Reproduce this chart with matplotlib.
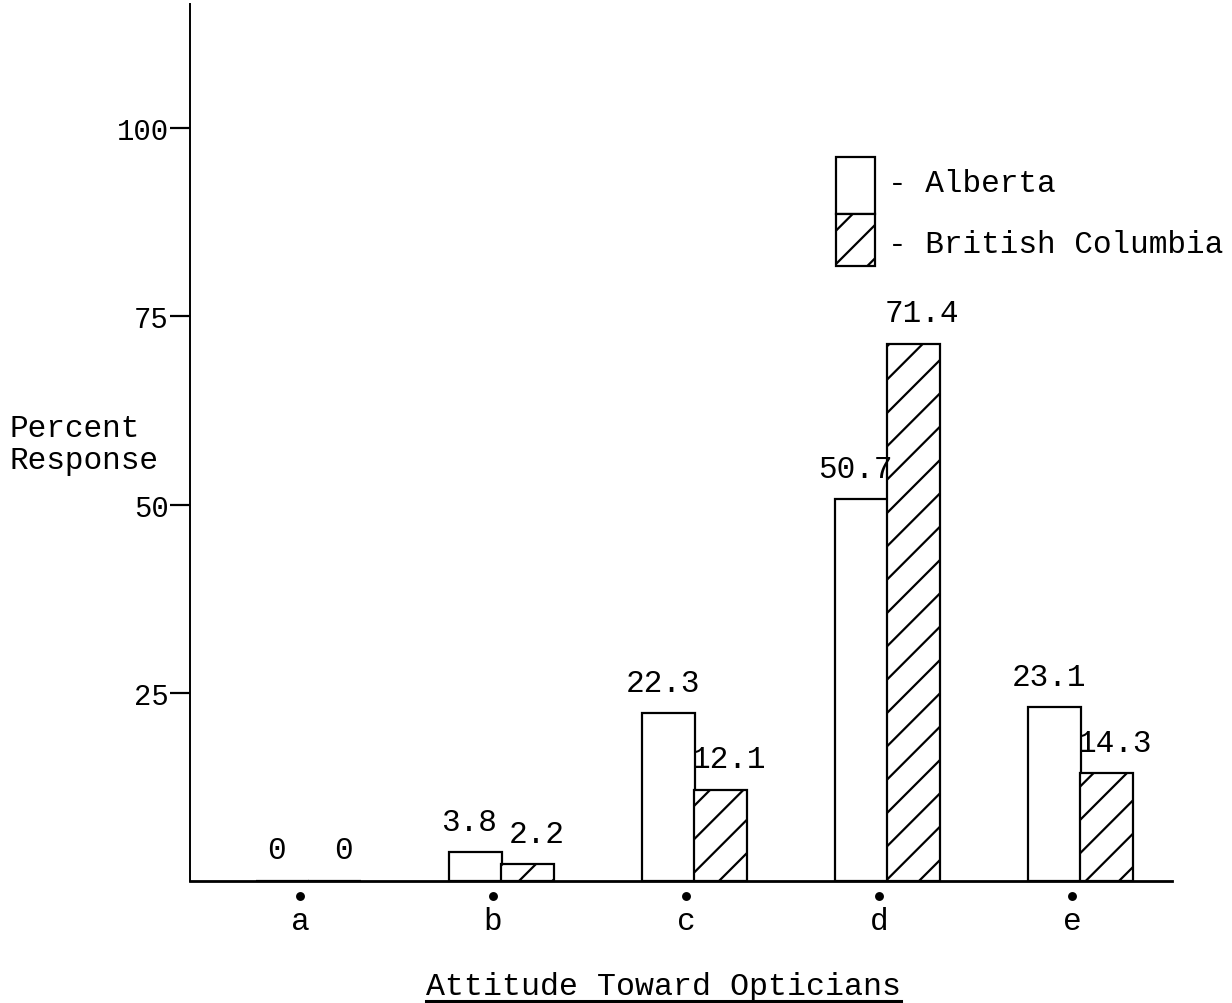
import matplotlib
matplotlib.use("Agg")
import matplotlib.pyplot as plt
import numpy as np
from matplotlib.transforms import ScaledTranslation
from matplotlib.lines import Line2D
from matplotlib.patches import Rectangle

categories = ["a", "b", "c", "d", "e"]
alberta = [0, 3.8, 22.3, 50.7, 23.1]
british_columbia = [0, 2.2, 12.1, 71.4, 14.3]
alberta_labels = ["0", "3.8", "22.3", "50.7", "23.1"]
bc_labels = ["0", "2.2", "12.1", "71.4", "14.3"]
series_names = ["- Alberta", "- British Columbia"]
yticks = [25, 50, 75, 100]

DPI = 200
W, H = 1232, 1004
plt.rcParams['font.family'] = ['Liberation Mono', 'DejaVu Sans Mono']
plt.rcParams['hatch.linewidth'] = 0.8

fig = plt.figure(figsize=(W / DPI, H / DPI), dpi=DPI)
ax = fig.add_axes([190 / W, 1 - 882 / H, (1172 - 190) / W, (882 - 5) / H])

x = np.arange(len(categories))
off_a, off_b, width = -0.093, 0.181, 0.275
HATCH = "//"
bars_a = ax.bar(x + off_a, alberta, width, color="white", edgecolor="black",
                linewidth=0.8)
bars_b = ax.bar(x + off_b, british_columbia, width, color="white", edgecolor="black",
                linewidth=0.8, hatch=HATCH)

for xi, v, t in zip(x + off_a, alberta, alberta_labels):
    ax.annotate(t, (xi, v), xytext=(-2, 11), textcoords="offset points",
                ha="center", va="center", fontsize=11.2)
for xi, v, t in zip(x + off_b, british_columbia, bc_labels):
    ax.annotate(t, (xi, v), xytext=(3, 11), textcoords="offset points",
                ha="center", va="center", fontsize=11.2)

# category dots below the axis
dot_tr = ax.transData + ScaledTranslation(0, -15 / DPI, fig.dpi_scale_trans)
ax.plot(x, np.zeros(len(x)), "o", color="black", ms=2.2, transform=dot_tr, clip_on=False)

ax.set_xlim(-0.570, 4.518)
ax.set_ylim(0, 116.5)
ax.set_xticks(x)
ax.set_xticklabels(categories, fontsize=11.2)
ax.tick_params(axis="x", length=0, pad=9)
ax.set_yticks(yticks)
ax.set_yticklabels([str(t) for t in yticks], fontsize=10.4)
ax.tick_params(axis="y", direction="out", length=7.2, width=0.8, pad=0.5)

for s in ["top", "right"]:
    ax.spines[s].set_visible(False)
ax.spines["left"].set_linewidth(0.7)
ax.spines["bottom"].set_linewidth(1.0)

fig.text(10 / W, 1 - 445 / H, "Percent\nResponse", ha="left", va="center",
         fontsize=11.2, linespacing=1.1)

xl = fig.text(663 / W, 1 - 995 / H, "Attitude Toward Opticians", ha="center",
              va="baseline", fontsize=11.4)

# manual legend (stacked boxes)
lx0, lx1 = 836 / W, 875 / W
ly = [1 - 158 / H, 1 - 215 / H, 1 - 267 / H]
fig.add_artist(Rectangle((lx0, ly[1]), lx1 - lx0, ly[0] - ly[1], facecolor="white",
                         edgecolor="black", linewidth=0.8, transform=fig.transFigure))
fig.add_artist(Rectangle((lx0, ly[2]), lx1 - lx0, ly[1] - ly[2], facecolor="white",
                         edgecolor="black", linewidth=0.8, hatch=HATCH,
                         transform=fig.transFigure))
fig.text(888 / W, 1 - 184 / H, series_names[0], ha="left", va="center", fontsize=11.2)
fig.text(888 / W, 1 - 245 / H, series_names[1], ha="left", va="center", fontsize=11.2)

fig.canvas.draw()
r = fig.canvas.get_renderer()
bb = xl.get_window_extent(r).transformed(fig.transFigure.inverted())
fig.add_artist(Line2D([bb.x0, bb.x1], [2.5 / H, 2.5 / H], color="black",
                      linewidth=1.1, transform=fig.transFigure))

fig.savefig("out.png", dpi=DPI, facecolor="white")
